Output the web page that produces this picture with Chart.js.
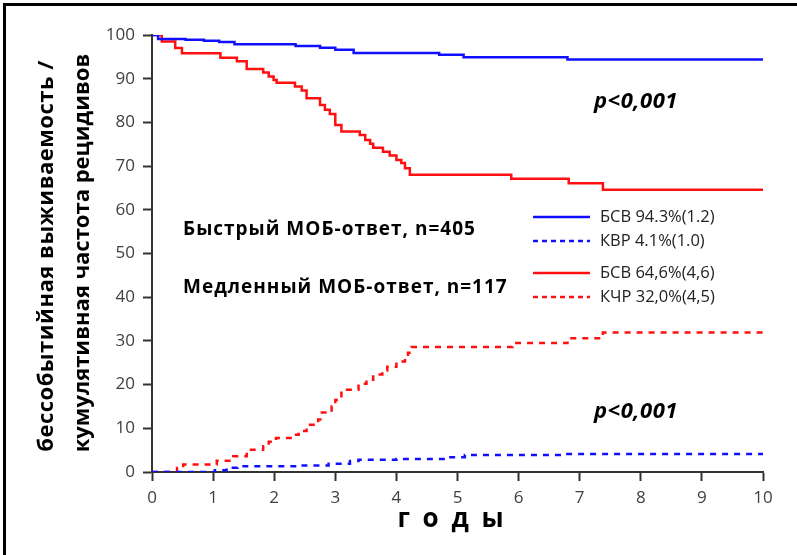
<!DOCTYPE html>
<html>
<head>
<meta charset="utf-8">
<script src="https://cdn.jsdelivr.net/npm/chart.js@4.4.1/dist/chart.umd.min.js"></script>
<style>
  html, body { margin: 0; padding: 0; background: #fff; }
</style>
</head>
<body>
<canvas id="myChart" width="797" height="555"></canvas>
<script>
// быстрый МОБ-ответ, БСВ
const fastEfsYears = [0, 0.1, 0.55, 0.85, 1.1, 1.35, 2.35, 2.75, 3.0, 3.3, 4.7, 5.1, 6.8, 10];
const fastEfsVals  = [100, 99.1, 98.9, 98.7, 98.4, 97.9, 97.5, 97.1, 96.6, 95.9, 95.5, 94.9, 94.4, 94.4];
// быстрый МОБ-ответ, КВР
const fastRelYears = [0, 1.03, 1.22, 1.4, 2.4, 2.89, 3.24, 3.38, 4.0, 4.85, 5.12, 6.75, 10];
const fastRelVals  = [0, 0.4, 1.0, 1.3, 1.5, 1.9, 2.5, 2.8, 3.0, 3.4, 3.9, 4.1, 4.1];
// медленный МОБ-ответ, БСВ
const slowEfsYears = [0, 0.16, 0.38, 0.49, 1.12, 1.39, 1.55, 1.82, 1.91, 1.99, 2.04, 2.34, 2.45, 2.53, 2.75, 2.83, 2.91, 3.0, 3.1, 3.4, 3.49, 3.57, 3.62, 3.78, 3.89, 4.0, 4.08, 4.14, 4.22, 5.88, 6.82, 7.38, 10];
const slowEfsVals  = [100, 98.5, 97, 95.8, 94.8, 94.0, 92.2, 91.4, 90.5, 89.7, 89.1, 88.2, 87.3, 85.5, 84.0, 82.9, 81.9, 79.4, 77.9, 77.1, 76.0, 75.1, 74.2, 73.3, 72.4, 71.4, 70.7, 69.5, 68.0, 67.1, 66.1, 64.6, 64.6];
// медленный МОБ-ответ, КЧР
const slowRelYears = [0, 0.41, 0.51, 1.06, 1.33, 1.55, 1.82, 1.91, 2.03, 2.3, 2.4, 2.53, 2.72, 2.78, 2.94, 3.0, 3.1, 3.38, 3.51, 3.62, 3.77, 3.85, 4.0, 4.14, 4.19, 4.25, 5.9, 6.8, 7.38, 10];
const slowRelVals  = [0, 0.9, 1.7, 2.6, 3.6, 5.1, 5.9, 6.9, 7.8, 8.5, 9.4, 10.8, 12.0, 13.6, 15.0, 16.5, 18.8, 20.2, 21.1, 22.3, 23.2, 24.1, 25.3, 26.3, 27.3, 28.6, 29.5, 30.6, 31.9, 31.9];

const xTicks = [0, 10, 1];   // min, max, step
const yTicks = [0, 100, 10];

const legendLabels = ['БСВ 94.3%(1.2)', 'КВР 4.1%(1.0)', 'БСВ 64,6%(4,6)', 'КЧР 32,0%(4,5)'];
const groupLabels = ['Быстрый МОБ-ответ, n=405', 'Медленный МОБ-ответ, n=117'];
const pText = 'p<0,001';
const yTitle = ['бессобытийная выживаемость /', 'кумулятивная частота рецидивов'];
const xTitle = 'г о д ы';

const BLUE = '#1010ff';
const RED = '#ff1010';
const AXIS = '#333333';

function pts(xs, ys) {
    return xs.map((x, i) => ({ x: x, y: ys[i] }));
}

const extras = {
    id: 'extras',
    afterDraw(chart) {
        const c = chart.ctx;
        c.save();
        // рамка
        c.fillStyle = '#000';
        c.fillRect(3, 3, 797, 3);
        c.fillRect(3, 3, 3, 552);

        // подпись оси Y
        c.fillStyle = '#000';
        c.font = 'bold 22px "Open Sans"';
        c.textAlign = 'center';
        c.textBaseline = 'middle';
        c.save();
        c.translate(47, 256);
        c.rotate(-Math.PI / 2);
        c.letterSpacing = '0.5px';
        c.fillText(yTitle[0], 0, 0);
        c.letterSpacing = '0px';
        c.restore();
        c.save();
        c.translate(83, 253);
        c.rotate(-Math.PI / 2);
        c.fillText(yTitle[1], 0, 0);
        c.restore();

        // подпись оси X
        c.font = 'bold 26px "Open Sans"';
        c.letterSpacing = '3px';
        c.fillText(xTitle, 452, 520);

        // p
        c.font = 'italic bold 22px "Open Sans"';
        c.letterSpacing = '0.5px';
        c.textAlign = 'left';
        c.fillText(pText, 594, 102);
        c.fillText(pText, 594, 412);

        // группы
        c.font = 'bold 19px "Open Sans"';
        c.letterSpacing = '1px';
        c.fillText(groupLabels[0], 183, 230);
        c.fillText(groupLabels[1], 183, 288);
        c.letterSpacing = '0px';

        // легенда
        const rows = [
            { y: 217, color: BLUE, dash: [] },
            { y: 241, color: BLUE, dash: [5, 4] },
            { y: 273, color: RED, dash: [] },
            { y: 297, color: RED, dash: [5, 4] }
        ];
        c.font = '16.5px "Open Sans"';
        rows.forEach((r, i) => {
            c.strokeStyle = r.color;
            c.lineWidth = 2.5;
            c.setLineDash(r.dash);
            c.beginPath();
            c.moveTo(533, r.y);
            c.lineTo(590, r.y);
            c.stroke();
            c.fillStyle = '#222';
            c.fillText(legendLabels[i], 600, r.y);
        });
        c.restore();
    }
};

new Chart(document.getElementById('myChart'), {
    type: 'line',
    data: {
        datasets: [
            { data: pts(fastEfsYears, fastEfsVals), borderColor: BLUE, borderWidth: 2.5 },
            { data: pts(fastRelYears, fastRelVals), borderColor: BLUE, borderWidth: 2.5, borderDash: [6, 6] },
            { data: pts(slowEfsYears, slowEfsVals), borderColor: RED, borderWidth: 2.5 },
            { data: pts(slowRelYears, slowRelVals), borderColor: RED, borderWidth: 2.5, borderDash: [6, 6] }
        ]
    },
    options: {
        responsive: false,
        animation: false,
        devicePixelRatio: 1,
        layout: { padding: { left: 0, top: 35, right: 34, bottom: 0 } },
        elements: {
            point: { radius: 0 },
            line: { stepped: 'before', tension: 0, fill: false }
        },
        plugins: {
            legend: { display: false },
            tooltip: { enabled: false }
        },
        scales: {
            x: {
                type: 'linear',
                min: xTicks[0],
                max: xTicks[1],
                ticks: { stepSize: xTicks[2], color: '#404040', font: { family: 'Open Sans', size: 17 }, padding: 7 },
                grid: { drawOnChartArea: false, drawTicks: true, tickLength: 9, tickWidth: 2, tickColor: AXIS },
                border: { color: AXIS, width: 2 },
                afterFit: (s) => { s.height = 83; }
            },
            y: {
                min: yTicks[0],
                max: yTicks[1],
                ticks: { stepSize: yTicks[2], color: '#404040', font: { family: 'Open Sans', size: 17 }, padding: 8 },
                grid: { drawOnChartArea: false, drawTicks: true, tickLength: 9, tickWidth: 2, tickColor: AXIS },
                border: { color: AXIS, width: 2 },
                afterFit: (s) => { s.width = 152; }
            }
        }
    },
    plugins: [extras]
});
</script>
</body>
</html>
